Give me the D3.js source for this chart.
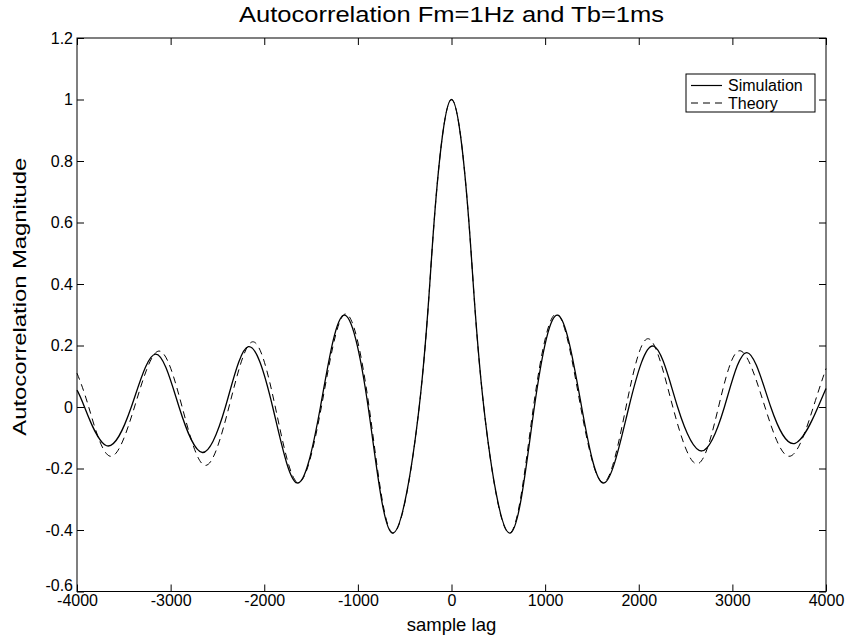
<!DOCTYPE html>
<html>
<head>
<meta charset="utf-8">
<script src="https://cdn.jsdelivr.net/npm/d3@7"></script>
<style>
  body { margin:0; background:#fff; }
  svg text { font-family:"Liberation Sans", Arial, Helvetica, sans-serif; fill:#000; }
</style>
</head>
<body>
<svg id="svg" width="847" height="641"></svg>
<script>
// values
var simX = [-4000,-3920,-3684,-3420,-3160,-2910,-2660,-2415,-2170,-1910,-1650,-1400,-1155,-890,-630,-345,-210,-110,0,110,210,345,625,885,1140,1390,1630,1895,2158,2415,2673,2915,3155,3410,3670,3915,4000];
var simY = [0.055,0,-0.126,0,0.172,0,-0.148,0,0.196,0,-0.247,0,0.298,0,-0.41,0,0.5,0.85,1.0,0.85,0.5,0,-0.41,0,0.298,0,-0.247,0,0.198,0,-0.143,0,0.177,0,-0.118,0,0.06];

var theoryX = [-4000,-3875,-3648,-3386,-3125,-2877,-2630,-2377,-2125,-1882,-1640,-1390,-1140,-880,-625,-345,-210,-110,0,110,210,345,620,875,1130,1380,1625,1864,2103,2364,2625,2852,3080,3348,3617,3865,4000];
var theoryY = [0.11,0,-0.16,0,0.182,0,-0.19,0,0.212,0,-0.245,0,0.302,0,-0.41,0,0.5,0.85,1.0,0.85,0.5,0,-0.41,0,0.302,0,-0.245,0,0.222,0,-0.185,0,0.183,0,-0.16,0,0.125];

var xTicks = [-4000,-3000,-2000,-1000,0,1000,2000,3000,4000];
var yTicks = [-0.6,-0.4,-0.2,0,0.2,0.4,0.6,0.8,1,1.2];
var legendNames = ["Simulation","Theory"];

// layout
var plot = {left:77, right:826, top:38, bottom:591.5};
var tickLen = 7;

var svg = d3.select("#svg");
var x = d3.scaleLinear().domain([-4000,4000]).range([plot.left, plot.right]);
var y = d3.scaleLinear().domain([-0.6,1.2]).range([plot.bottom, plot.top]);

function fmt(d){ return String(d); }

function styleAxis(g){
  g.select(".domain").remove();
  g.selectAll(".tick line").attr("stroke","#000").attr("stroke-width",1);
  g.selectAll(".tick text").attr("font-size",16).attr("fill","#000")
    .attr("font-family",'"Liberation Sans", Arial, sans-serif');
}

svg.append("g").attr("transform","translate(0,"+plot.bottom+")")
  .call(d3.axisBottom(x).tickValues(xTicks).tickFormat(fmt).tickSizeInner(-tickLen).tickSizeOuter(0).tickPadding(3))
  .call(styleAxis);
svg.append("g").attr("transform","translate(0,"+plot.top+")")
  .call(d3.axisTop(x).tickValues(xTicks).tickFormat("").tickSizeInner(-tickLen).tickSizeOuter(0))
  .call(styleAxis);
svg.append("g").attr("transform","translate("+plot.left+",0)")
  .call(d3.axisLeft(y).tickValues(yTicks).tickFormat(fmt).tickSizeInner(-tickLen).tickSizeOuter(0).tickPadding(4))
  .call(styleAxis);
svg.append("g").attr("transform","translate("+plot.right+",0)")
  .call(d3.axisRight(y).tickValues(yTicks).tickFormat("").tickSizeInner(-tickLen).tickSizeOuter(0))
  .call(styleAxis);

// the bottom-left label sits a little higher so it clears -4000
svg.selectAll("g.tick text").filter(function(d){ return d === -0.6; }).attr("dy","-0.05em");

svg.append("rect")
  .attr("x",plot.left).attr("y",plot.top)
  .attr("width",plot.right-plot.left).attr("height",plot.bottom-plot.top)
  .attr("fill","none").attr("stroke","#000").attr("stroke-width",1);

var line = d3.line().curve(d3.curveNatural)
  .x(function(d){ return x(d[0]); })
  .y(function(d){ return y(d[1]); });

var theoryData = d3.zip(theoryX, theoryY);
var simData = d3.zip(simX, simY);

svg.append("path").datum(theoryData)
  .attr("d",line).attr("fill","none").attr("stroke","#000")
  .attr("stroke-width",1).attr("stroke-dasharray","7,5");
svg.append("path").datum(simData)
  .attr("d",line).attr("fill","none").attr("stroke","#000")
  .attr("stroke-width",1.3);

// legend
var rowH = 17.5;
var leg = svg.append("g").attr("transform","translate(686,74)");
leg.append("rect").attr("width",129).attr("height",38)
  .attr("fill","#fff").attr("stroke","#000").attr("stroke-width",1);
leg.selectAll("line").data(legendNames).enter().append("line")
  .attr("x1",5).attr("x2",36)
  .attr("y1",function(d,i){ return 11.5+i*rowH; })
  .attr("y2",function(d,i){ return 11.5+i*rowH; })
  .attr("stroke","#000")
  .attr("stroke-width",function(d,i){ return i==0 ? 1.2 : 1; })
  .attr("stroke-dasharray",function(d,i){ return i==0 ? null : "7,5"; });
leg.selectAll("text").data(legendNames).enter().append("text")
  .attr("x",42)
  .attr("y",function(d,i){ return 17+i*rowH; })
  .attr("font-size",16)
  .text(function(d){ return d; });

// titles
svg.append("text").attr("x",(plot.left+plot.right)/2).attr("y",22)
  .attr("text-anchor","middle").attr("font-size",22)
  .attr("textLength",425).attr("lengthAdjust","spacingAndGlyphs")
  .text("Autocorrelation Fm=1Hz and Tb=1ms");
svg.append("text").attr("x",(plot.left+plot.right)/2).attr("y",631)
  .attr("text-anchor","middle").attr("font-size",18.5)
  .text("sample lag");
svg.append("text")
  .attr("transform","translate(26,"+((plot.top+plot.bottom)/2 - 18)+") rotate(-90)")
  .attr("text-anchor","middle").attr("font-size",18)
  .attr("textLength",278).attr("lengthAdjust","spacingAndGlyphs")
  .text("Autocorrelation Magnitude");
</script>
</body>
</html>
